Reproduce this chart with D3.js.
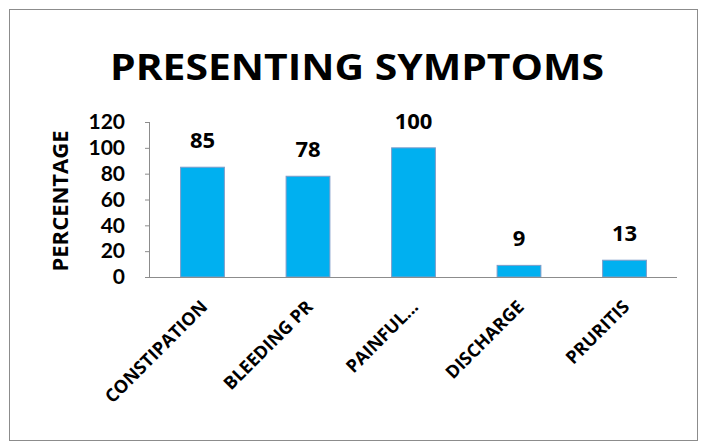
<!DOCTYPE html>
<html>
<head>
<meta charset="utf-8">
<script src="https://cdn.jsdelivr.net/npm/d3@7"></script>
<style>
  html, body { margin: 0; padding: 0; background: #fff; }
  svg { display: block; font-family: "Open Sans", "Noto Sans", sans-serif; }
</style>
</head>
<body>
<svg id="chart" width="708" height="448"></svg>
<script>
// Presenting symptoms, percentage of patients
const categories = ["CONSTIPATION", "BLEEDING PR", "PAINFUL...", "DISCHARGE", "PRURITIS"];
const values = [85, 78, 100, 9, 13];
const yTicks = [0, 20, 40, 60, 80, 100, 120];

const svg = d3.select("#chart");

// chart frame
svg.append("rect")
  .attr("x", 9.5).attr("y", 9.5)
  .attr("width", 688).attr("height", 431)
  .attr("fill", "#fff").attr("stroke", "#8c8c8c").attr("stroke-width", 1);

// title
svg.append("text")
  .attr("x", 357).attr("y", 80)
  .attr("text-anchor", "middle")
  .attr("font-size", 36).attr("font-weight", 700)
  .attr("fill", "#000")
  .attr("textLength", 494).attr("lengthAdjust", "spacingAndGlyphs")
  .text("PRESENTING SYMPTOMS");

const plot = { left: 150, right: 677, top: 122, bottom: 277 };

const x = d3.scaleBand()
  .domain(categories)
  .range([plot.left, plot.right])
  .paddingInner(0.585).paddingOuter(0.29);

const y = d3.scaleLinear()
  .domain([0, 120])
  .range([plot.bottom, plot.top]);

// bars
svg.append("g").selectAll("rect")
  .data(values)
  .join("rect")
  .attr("x", (d, i) => x(categories[i]))
  .attr("y", d => y(d))
  .attr("width", x.bandwidth())
  .attr("height", d => y(0) - y(d))
  .attr("fill", "#00B0F0")
  .attr("stroke", "#7f9cc8").attr("stroke-width", 1);

// value labels
svg.append("g").selectAll("text")
  .data(values)
  .join("text")
  .attr("x", (d, i) => x(categories[i]) + x.bandwidth() / 2)
  .attr("y", d => y(d) - 19)
  .attr("text-anchor", "middle")
  .attr("font-size", 22).attr("font-weight", 700)
  .text(d => d);

// y axis (compact font so the tightly spaced tick labels don't collide)
const yAxis = svg.append("g")
  .attr("transform", `translate(${plot.left},0)`)
  .call(d3.axisLeft(y).tickValues(yTicks).tickSize(5).tickPadding(20));
yAxis.select(".domain").attr("stroke", "#8c8c8c").attr("d", `M-0.5,${plot.top}V${plot.bottom}`);
yAxis.selectAll(".tick line").attr("stroke", "#8c8c8c");
yAxis.selectAll(".tick text")
  .attr("font-size", 21).attr("font-weight", 700).attr("fill", "#000")
  .attr("font-family", "Lato, sans-serif");

// x axis
const xAxis = svg.append("g")
  .attr("transform", `translate(0,${plot.bottom})`)
  .call(d3.axisBottom(x).tickSize(0).tickPadding(0));
xAxis.select(".domain").attr("stroke", "#8c8c8c").attr("d", `M${plot.left},0.5H${plot.right}`);
xAxis.selectAll(".tick text")
  .attr("font-size", 18).attr("font-weight", 700).attr("fill", "#000")
  .attr("font-family", "\"Open Sans\", sans-serif")
  .attr("text-anchor", "end")
  .attr("dy", 0)
  .attr("transform", "translate(6,31) rotate(-45)");

// y axis title
svg.append("text")
  .attr("transform", "translate(68,201) rotate(-90)")
  .attr("text-anchor", "middle")
  .attr("font-size", 22).attr("font-weight", 700)
  .text("PERCENTAGE");
</script>
</body>
</html>
